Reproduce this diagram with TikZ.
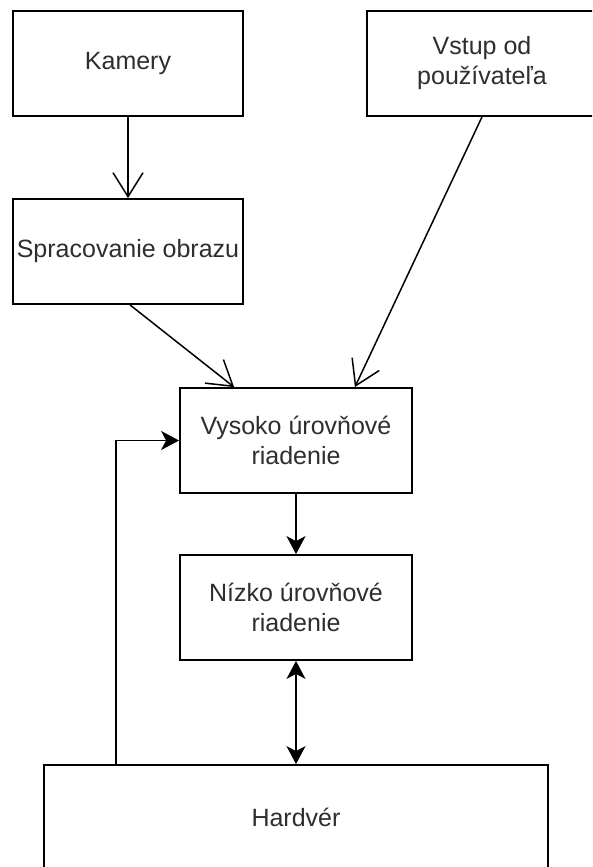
\documentclass[tikz,border=0pt]{standalone}
\usepackage{fontspec}
\setmainfont{Liberation Sans}
\usetikzlibrary{arrows.meta,calc}
\definecolor{txt}{HTML}{2E2E2E}
\begin{document}
\begin{tikzpicture}[x=1pt,y=-1pt,
  block/.style={draw=black, line width=1.8pt, fill=white, inner sep=0pt,
    minimum height=105pt, align=center, text=txt,
    font=\fontsize{25}{30}\selectfont},
  openarrow/.style={line width=1.5pt,
    -{Straight Barb[length=24pt,width=30pt,line width=1.5pt]}},
  filledarrow/.style={line width=1.8pt,
    -{Stealth[length=18pt,width=19pt,inset=5pt]}},
  bothways/.style={line width=1.8pt,
    {Stealth[length=18pt,width=19pt,inset=5pt]}-{Stealth[length=18pt,width=19pt,inset=5pt]}}
]
\useasboundingbox (0,0) rectangle (592,867);
\fill[white] (0,0) rectangle (592,867);
\clip (0,0) rectangle (592,867);

% boxes
\node[block, minimum width=230pt] (kam) at (128,63.5) {Kamery};
\node[block, minimum width=230pt] (vst) at (482,63.5) {Vstup od\\používateľa};
\node[block, minimum width=230pt] (spr) at (128,251.5) {Spracovanie obrazu};
\node[block, minimum width=232pt] (vys) at (296,440.5) {Vysoko úrovňové\\riadenie};
\node[block, minimum width=232pt] (niz) at (296,607.5) {Nízko úrovňové\\riadenie};
\node[block, minimum width=504pt] (hw) at (296,817.5) {Hardvér};

% connectors
\draw[openarrow] (kam) -- (spr);
\draw[openarrow] ([xshift=2pt]spr.south) -- ([xshift=55pt]vys.north west);
\draw[openarrow] (vst.south) -- ([xshift=-58pt]vys.north east);
\draw[filledarrow] (vys) -- (niz);
\draw[bothways] (niz) -- (hw);
\draw[filledarrow] ([xshift=73pt]hw.north west) |- (vys.west);
\end{tikzpicture}
\end{document}
